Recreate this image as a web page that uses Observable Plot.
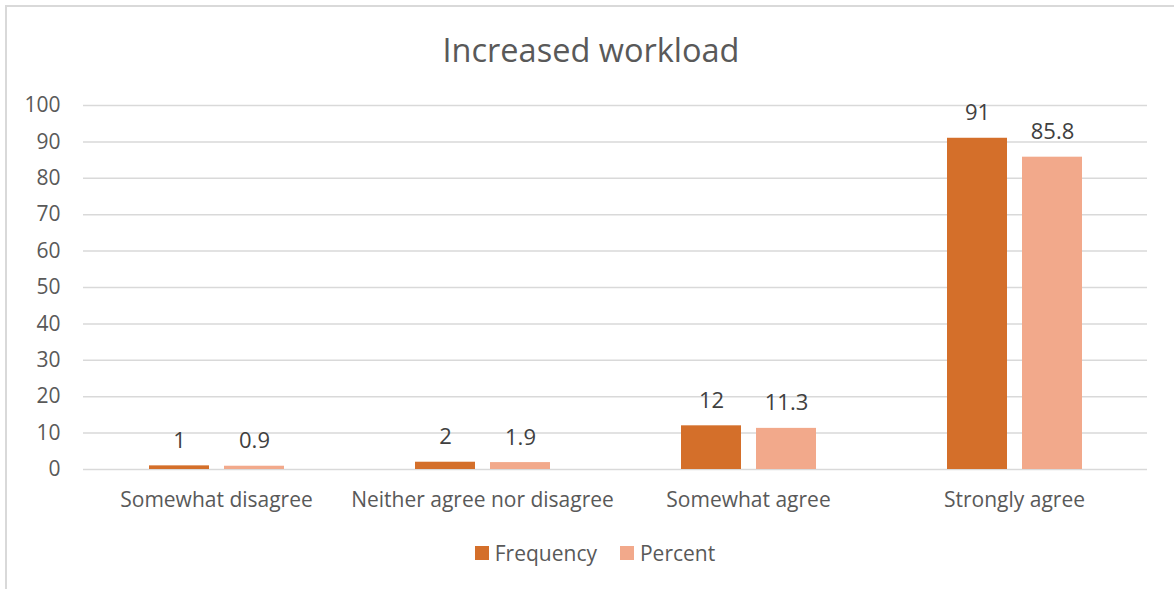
<!DOCTYPE html>
<html>
<head>
<meta charset="utf-8">
<script src="https://cdn.jsdelivr.net/npm/d3@7"></script>
<script src="https://cdn.jsdelivr.net/npm/@observablehq/plot@0.6"></script>
<style>
  html, body { margin: 0; padding: 0; background: #fff; }
  body { width: 1174px; height: 589px; position: relative; overflow: hidden; font-family: "Open Sans", sans-serif; }
  #frame { position: absolute; left: 5px; top: 5px; width: 1200px; height: 700px; border-left: 2px solid #d9d9d9; border-top: 2px solid #d9d9d9; }
  #title { position: absolute; left: 0; top: 27px; width: 1182px; text-align: center; font-size: 32.5px; line-height: 46px; color: #595959; }
  #chart { position: absolute; left: 0; top: 80px; }
  #legend { position: absolute; left: 0; top: 538px; width: 1190px; display: flex; justify-content: center; gap: 23px; font-size: 21px; color: #595959; line-height: 30px; }
  .item { display: flex; align-items: center; gap: 6px; }
  .sw { width: 14px; height: 14px; display: inline-block; }
</style>
</head>
<body>
<div id="frame"></div>
<div id="title">Increased workload</div>
<div id="chart"></div>
<div id="legend"></div>
<script>
const categories = ["Somewhat disagree", "Neither agree nor disagree", "Somewhat agree", "Strongly agree"];
const series = ["Frequency", "Percent"];
const frequency = [1, 2, 12, 91];
const percent = [0.9, 1.9, 11.3, 85.8];
const yTicks = [0, 10, 20, 30, 40, 50, 60, 70, 80, 90, 100];
const colors = ["#D46F2A", "#F2A98B"];

const data = categories.flatMap((c, i) => [
  {category: c, series: "Frequency", value: frequency[i]},
  {category: c, series: "Percent", value: percent[i]}
]);

const chart = Plot.plot({
  width: 1174,
  height: 439,
  marginLeft: 82,
  marginRight: 27,
  marginTop: 25,
  marginBottom: 50,
  style: {fontFamily: "'Open Sans', sans-serif", fontSize: "21px", color: "#595959", background: "transparent"},
  fx: {domain: categories, padding: 0, label: null},
  x: {domain: series, paddingInner: 0.2, paddingOuter: 0.873, axis: null},
  y: {domain: [0, 100], label: null},
  color: {domain: series, range: colors},
  marks: [
    Plot.gridY(yTicks, {stroke: "#d9d9d9", strokeOpacity: 1, strokeWidth: 1.5}),
    Plot.axisY(yTicks, {tickSize: 0, tickPadding: 23, label: null, fill: "#595959", fontSize: 21}),
    Plot.barY(data, {fx: "category", x: "series", y: "value", fill: "series"}),
    Plot.text(data, {fx: "category", x: "series", y: "value", text: d => String(d.value), dy: -25, fill: "#404040", fontSize: 22}),
    Plot.axisFx({anchor: "bottom", tickSize: 0, tickPadding: 23, label: null, fill: "#595959", fontSize: 21})
  ]
});
document.getElementById("chart").appendChild(chart);

const legend = document.getElementById("legend");
series.forEach((s, i) => {
  const item = document.createElement("div");
  item.className = "item";
  const sw = document.createElement("span");
  sw.className = "sw";
  sw.style.background = colors[i];
  const label = document.createElement("span");
  label.textContent = s;
  item.appendChild(sw);
  item.appendChild(label);
  legend.appendChild(item);
});
</script>
</body>
</html>
